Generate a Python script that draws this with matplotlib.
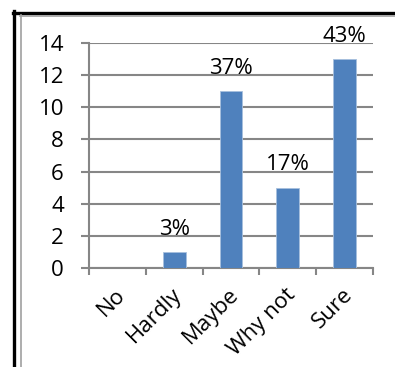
import matplotlib.pyplot as plt
from matplotlib.lines import Line2D
from matplotlib.transforms import ScaledTranslation

# Survey answers, counts and share labels
categories = ['No', 'Hardly', 'Maybe', 'Why not', 'Sure']
counts = [0, 1, 11, 5, 13]
shares = ['', '3%', '37%', '17%', '43%']
y_ticks = [0, 2, 4, 6, 8, 10, 12, 14]

plt.rcParams['font.family'] = ['Open Sans', 'DejaVu Sans']

W, H = 395, 367
fig = plt.figure(figsize=(W / 100, H / 100), dpi=100)
fig.patch.set_facecolor('white')

#Plot area
ax = fig.add_axes([89 / W, 1 - 268 / H, (373 - 89) / W, (268 - 43) / H])

grid_col = '#868686'
bar_col = '#4F81BD'

x = list(range(len(categories)))
bars = ax.bar(x, counts, width=0.4, color=bar_col, edgecolor='#A7C0DE', linewidth=0.6, zorder=3)

for b, lab in zip(bars, shares):
  if lab:
    ax.annotate(lab, (b.get_x() + b.get_width() / 2, b.get_height()),
                xytext=(0, 16.5), textcoords='offset points',
                ha='center', va='center', fontsize=16, color='black')

ax.set_xlim(-0.5, len(categories) - 0.5)
ax.set_ylim(0, 14)
ax.set_yticks(y_ticks)
ax.set_yticklabels([str(v) for v in y_ticks], fontsize=16)
ax.yaxis.grid(True, color=grid_col, linewidth=1.5, zorder=0)
ax.set_axisbelow(True)

#Category ticks sit on the boundaries between bars
ax.set_xticks([i - 0.5 for i in range(len(categories) + 1)], minor=False)
ax.set_xticklabels([])
ax.set_xticks(x, minor=True)
ax.set_xticklabels(categories, minor=True, rotation=45, ha='right', va='center',
                   rotation_mode='anchor', fontsize=16)
ax.tick_params(axis='x', which='minor', length=0, pad=17)
ax.tick_params(axis='x', which='major', length=5, width=1.5, color=grid_col)
ax.tick_params(axis='y', length=6, width=1.5, color=grid_col, pad=12)

#Nudge the rotated category names a little to the right
shift = ScaledTranslation(5 / 100, 0, fig.dpi_scale_trans)
for lbl in ax.get_xticklabels(minor=True):
  lbl.set_transform(lbl.get_transform() + shift)

for side in ['top', 'right']:
  ax.spines[side].set_visible(False)
for side in ['left', 'bottom']:
  ax.spines[side].set_color(grid_col)
  ax.spines[side].set_linewidth(1.5)

#Outer borders
fig.add_artist(Line2D([14 / W, 14 / W], [0, 1 - 11 / H], color='black', linewidth=2.4, transform=fig.transFigure))
fig.add_artist(Line2D([12.5 / W, 1], [1 - 12.5 / H, 1 - 12.5 / H], color='black', linewidth=2.4, transform=fig.transFigure))
fig.add_artist(Line2D([20.5 / W, 20.5 / W], [0, 1 - 15 / H], color='#A0A0A0', linewidth=1.2, transform=fig.transFigure))
fig.add_artist(Line2D([20 / W, 1], [1 - 15.5 / H, 1 - 15.5 / H], color='#A0A0A0', linewidth=1.2, transform=fig.transFigure))

fig.savefig('out.png', dpi=100)
